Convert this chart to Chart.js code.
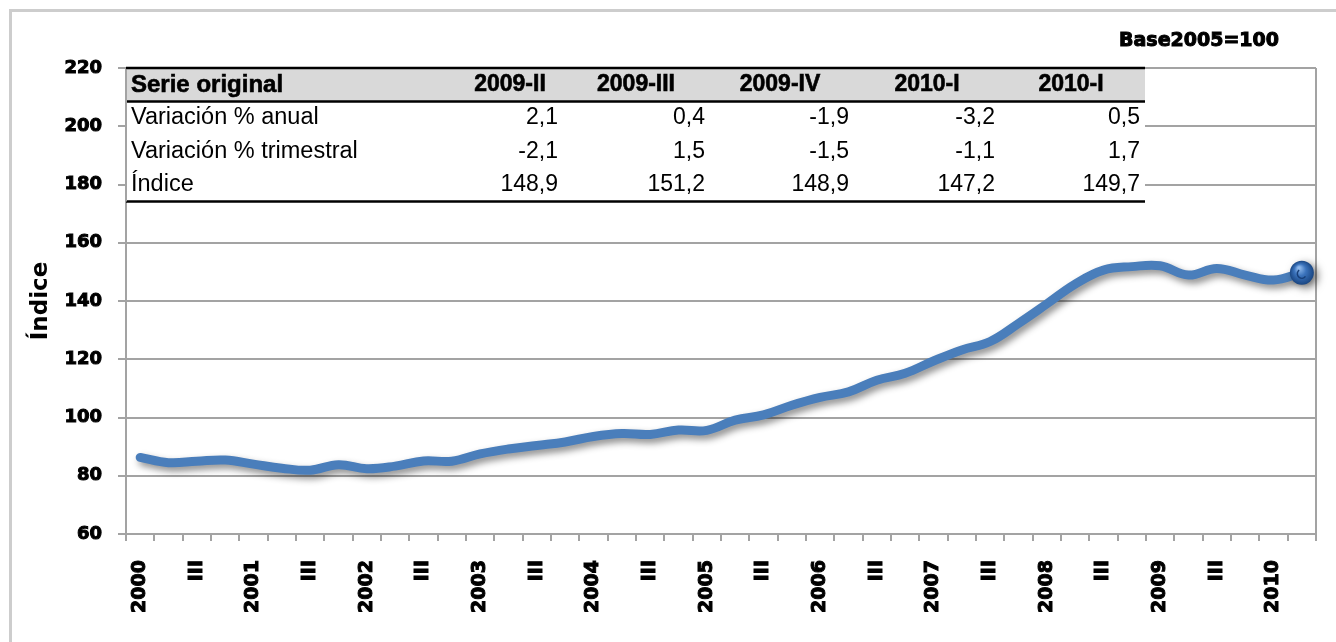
<!DOCTYPE html>
<html><head><meta charset="utf-8">
<script src="https://cdn.jsdelivr.net/npm/chart.js@4.4.1/dist/chart.umd.min.js"></script>
<style>html,body{margin:0;padding:0;background:#fff;}canvas{display:block;}</style>
</head><body>
<canvas id="c" width="1336" height="642"></canvas>
<script>
// ---------- DATA ----------
const quarters = [
 '2000-I','2000-II','2000-III','2000-IV','2001-I','2001-II','2001-III','2001-IV',
 '2002-I','2002-II','2002-III','2002-IV','2003-I','2003-II','2003-III','2003-IV',
 '2004-I','2004-II','2004-III','2004-IV','2005-I','2005-II','2005-III','2005-IV',
 '2006-I','2006-II','2006-III','2006-IV','2007-I','2007-II','2007-III','2007-IV',
 '2008-I','2008-II','2008-III','2008-IV','2009-I','2009-II','2009-III','2009-IV',
 '2010-I','2010-II'];
const tickLabels = [
 '2000','','III','','2001','','III','','2002','','III','','2003','','III','',
 '2004','','III','','2005','','III','','2006','','III','','2007','','III','',
 '2008','','III','','2009','','III','','2010',''];
const indexValues = [
 86.3, 84.5, 85.0, 85.4, 84.0, 82.6, 81.9, 83.8,
 82.4, 83.3, 85.1, 85.0, 87.5, 89.2, 90.4, 91.6,
 93.5, 94.5, 94.2, 95.7, 95.6, 99.1, 100.9, 104.2,
 106.9, 108.8, 112.8, 115.2, 119.4, 123.2, 126.1, 132.3,
 139.0, 145.8, 150.6, 151.8, 152.1, 148.9, 151.2, 148.9,
 147.2, 149.7];
const yTicks = [60, 80, 100, 120, 140, 160, 180, 200, 220];
const yTitle = 'Índice';
const baseNote = 'Base2005=100';
const tableTitle = 'Serie original';
const tableColumns = ['2009-II', '2009-III', '2009-IV', '2010-I', '2010-I'];
const rowLabels = ['Variación % anual', 'Variación % trimestral', 'Índice'];
const annualChange = ['2,1', '0,4', '-1,9', '-3,2', '0,5'];
const quarterlyChange = ['-2,1', '1,5', '-1,5', '-1,1', '1,7'];
const indexRow = ['148,9', '151,2', '148,9', '147,2', '149,7'];

// ---------- LAYOUT ----------
const L = {
  tableRight: 1145,
  headerY: 85, rowY: [118, 152, 185], headerBottom: 101.5, tableBottom: 201.5,
  labelX: 131,
  colRight: [558, 705, 849, 995, 1140],
  colHeadCenter: [510, 636, 780, 927, 1071]
};
const BLUE = '#4a7ebb';
const GRID = '#a3a3a3';

const decor = {
  id: 'decor',
  beforeDraw(chart) {
    const c = chart.ctx;
    c.save();
    c.strokeStyle = '#cdcdcd'; c.lineWidth = 3;
    c.strokeRect(10.5, 10.5, 1400, 700);
    c.restore();
  },
  beforeDatasetsDraw(chart) {
    const c = chart.ctx, a = chart.chartArea;
    c.save();
    c.strokeStyle = GRID; c.lineWidth = 2;
    c.beginPath(); c.moveTo(a.right, a.top); c.lineTo(a.right, a.bottom + 7); c.stroke();
    c.restore();
  },
  beforeDatasetDraw(chart) {
    const c = chart.ctx;
    c.save();
    c.shadowColor = 'rgba(0,0,0,0.45)';
    c.shadowBlur = 7; c.shadowOffsetX = 3; c.shadowOffsetY = 4;
  },
  afterDatasetDraw(chart) { chart.ctx.restore(); },
  afterDatasetsDraw(chart) {
    const c = chart.ctx;
    const meta = chart.getDatasetMeta(0);
    const p = meta.data[meta.data.length - 1];
    const r = 12;
    c.save();
    c.shadowColor = 'rgba(0,0,0,0.55)'; c.shadowBlur = 9; c.shadowOffsetX = 4; c.shadowOffsetY = 3;
    const g = c.createRadialGradient(p.x - 3, p.y - 5, 1, p.x, p.y, r);
    g.addColorStop(0, '#8fb9ec'); g.addColorStop(0.45, '#3a72bb'); g.addColorStop(1, '#1a4682');
    c.fillStyle = g;
    c.beginPath(); c.arc(p.x, p.y, r, 0, Math.PI * 2); c.fill();
    c.shadowColor = 'transparent';
    c.strokeStyle = '#173f78'; c.lineWidth = 1.5;
    c.beginPath(); c.arc(p.x, p.y + 1, 4.5, 0.2 * Math.PI, 1.3 * Math.PI); c.stroke();
    c.restore();
  },
  afterDraw(chart) {
    const c = chart.ctx, a = chart.chartArea;
    const left = a.left, top = a.top;
    c.save();
    // table background
    c.fillStyle = '#ffffff';
    c.fillRect(left + 1, top - 1, L.tableRight - left - 1, L.tableBottom - top + 2);
    c.fillStyle = '#d9d9d9';
    c.fillRect(left + 1, top, L.tableRight - left - 1, L.headerBottom - top);
    // rules
    c.strokeStyle = '#000'; c.lineWidth = 2.5;
    [top, L.headerBottom, L.tableBottom].forEach(y => {
      c.beginPath(); c.moveTo(left, y); c.lineTo(L.tableRight, y); c.stroke();
    });
    // left axis line over table
    c.strokeStyle = GRID; c.lineWidth = 2;
    c.beginPath(); c.moveTo(left, top + 1.5); c.lineTo(left, L.tableBottom); c.stroke();
    // texts
    c.fillStyle = '#000'; c.strokeStyle = '#000'; c.textBaseline = 'middle';
    c.lineWidth = 0.6;
    c.font = 'bold 24px "Liberation Sans", Arial, sans-serif';
    c.textAlign = 'left';
    c.fillText(tableTitle, L.labelX, L.headerY);
    c.strokeText(tableTitle, L.labelX, L.headerY);
    c.font = 'bold 23px "Liberation Sans", Arial, sans-serif';
    c.textAlign = 'center';
    tableColumns.forEach((t, i) => { c.fillText(t, L.colHeadCenter[i], L.headerY); c.strokeText(t, L.colHeadCenter[i], L.headerY); });
    c.font = '23.5px "Liberation Sans", Arial, sans-serif';
    c.textAlign = 'left';
    rowLabels.forEach((t, i) => c.fillText(t, L.labelX, L.rowY[i]));
    c.font = '23px "Liberation Sans", Arial, sans-serif';
    c.textAlign = 'right';
    [annualChange, quarterlyChange, indexRow].forEach((row, r) => {
      row.forEach((t, i) => c.fillText(t, L.colRight[i], L.rowY[r]));
    });
    // base note
    c.font = 'bold 19px "DejaVu Sans", sans-serif';
    c.textAlign = 'right';
    c.lineWidth = 1;
    c.fillText(baseNote, 1279, 41);
    c.strokeText(baseNote, 1279, 41);
    c.restore();
  }
};

new Chart(document.getElementById('c'), {
  type: 'line',
  data: {
    labels: quarters,
    datasets: [{
      data: indexValues,
      borderColor: BLUE,
      borderWidth: 9,
      tension: 0.4,
      pointRadius: 0,
      borderCapStyle: 'round',
      borderJoinStyle: 'round',
      fill: false,
      clip: false
    }]
  },
  options: {
    responsive: false,
    animation: false,
    events: [],
    layout: { padding: { top: 68, right: 20, left: 0, bottom: 0 } },
    plugins: { legend: { display: false }, tooltip: { enabled: false } },
    scales: {
      x: {
        type: 'category',
        offset: true,
        afterFit(s) { s.height = 108; s.paddingLeft = 0; s.paddingRight = 0; },
        grid: { offset: true, drawOnChartArea: false, drawTicks: true, tickLength: 7, tickColor: GRID, lineWidth: 2 },
        border: { display: true, color: GRID, width: 2 },
        ticks: {
          autoSkip: false, maxRotation: 90, minRotation: 90, padding: 19,
          color: '#000', textStrokeColor: '#000', textStrokeWidth: 1,
          font: { family: '"DejaVu Sans", sans-serif', size: 19, weight: 'bold' },
          callback: (v, i) => tickLabels[i]
        }
      },
      y: {
        min: yTicks[0], max: yTicks[yTicks.length - 1],
        afterFit(s) { s.width = 126; },
        afterBuildTicks(s) { s.ticks = yTicks.map(v => ({ value: v })); },
        grid: { color: GRID, lineWidth: 2, tickLength: 8, tickColor: GRID },
        border: { display: true, color: GRID, width: 2 },
        ticks: {
          padding: 16, color: '#000', textStrokeColor: '#000', textStrokeWidth: 1,
          font: { family: '"DejaVu Sans", sans-serif', size: 18, weight: 'bold' },
          callback: v => String(v)
        },
        title: {
          display: true, text: yTitle, color: '#000',
          font: { family: '"DejaVu Sans", sans-serif', size: 23, weight: 'bold' },
          padding: { top: 27, bottom: 0 }
        }
      }
    }
  },
  plugins: [decor]
});
</script>
</body></html>
